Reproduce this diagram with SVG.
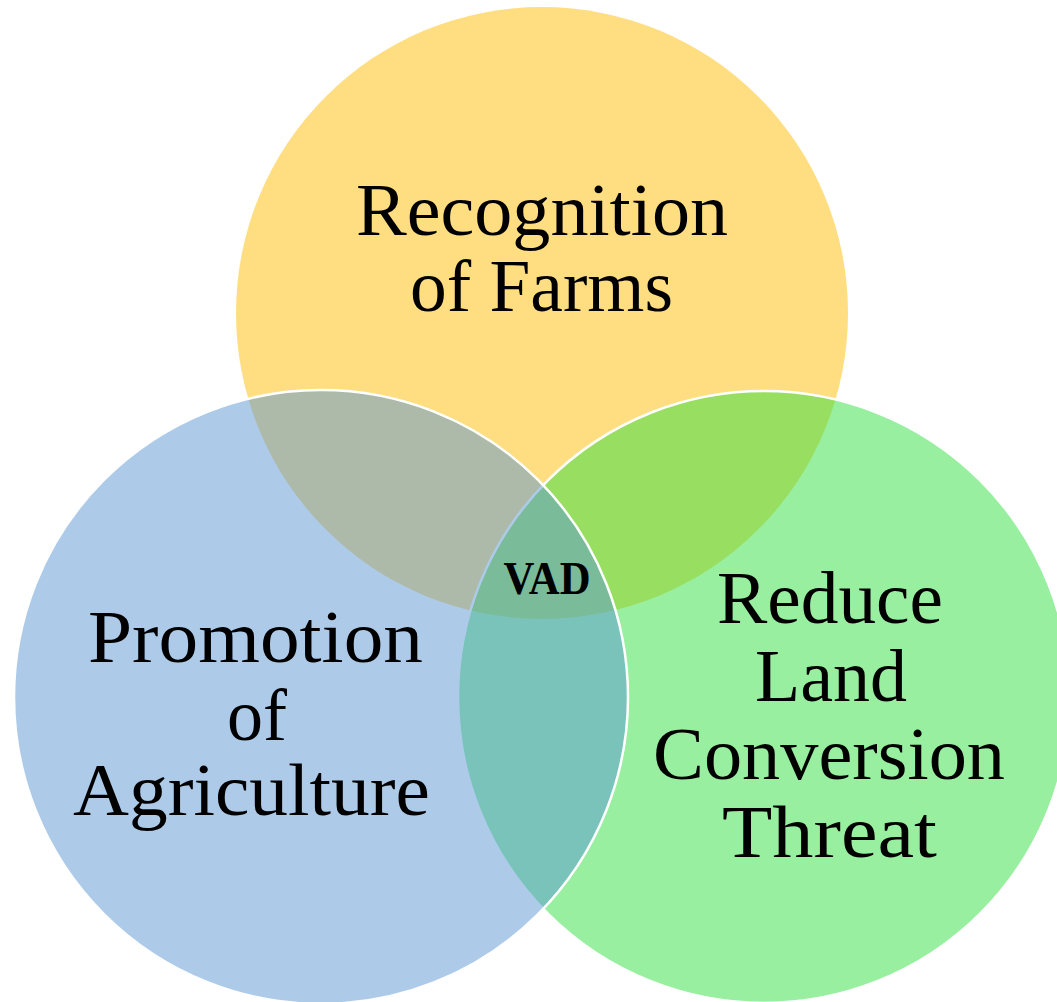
<svg xmlns="http://www.w3.org/2000/svg" width="1057" height="1002" viewBox="0 0 1057 1002">
  <style>
    .label { font-family: "Liberation Serif", "Times New Roman", serif; font-size: 75px; fill: #000; text-anchor: middle; }
    .core { font-family: "Liberation Serif", "Times New Roman", serif; font-size: 46px; font-weight: bold; fill: #000; text-anchor: middle; }
    .ring { fill-opacity: 0.5; }
  </style>
  <rect width="1057" height="1002" fill="#ffffff"/>

  <!-- Top set -->
  <g id="recognition-of-farms">
    <circle class="ring" cx="542" cy="313" r="306" fill="#FFBC03"/>
    <text class="label" x="542" y="235" textLength="372" lengthAdjust="spacingAndGlyphs">Recognition</text>
    <text class="label" x="541.5" y="311" textLength="263" lengthAdjust="spacingAndGlyphs">of Farms</text>
  </g>

  <!-- Right set -->
  <g id="reduce-land-conversion-threat">
    <circle class="ring" cx="764" cy="697" r="306" fill="#31DF41" stroke="#ffffff" stroke-width="2.5" stroke-opacity="1"/>
    <text class="label" x="830" y="623" textLength="226" lengthAdjust="spacingAndGlyphs">Reduce</text>
    <text class="label" x="831" y="701" textLength="152" lengthAdjust="spacingAndGlyphs">Land</text>
    <text class="label" x="829" y="779" textLength="352" lengthAdjust="spacingAndGlyphs">Conversion</text>
    <text class="label" x="829.5" y="857" textLength="215" lengthAdjust="spacingAndGlyphs">Threat</text>
  </g>

  <!-- Left set -->
  <g id="promotion-of-agriculture">
    <circle class="ring" cx="321" cy="697" r="307" fill="#5B98D3" stroke="#ffffff" stroke-width="2.5" stroke-opacity="1"/>
    <text class="label" x="255.5" y="662" textLength="335" lengthAdjust="spacingAndGlyphs">Promotion</text>
    <text class="label" x="257" y="740" textLength="60" lengthAdjust="spacingAndGlyphs">of</text>
    <text class="label" x="251.5" y="815" textLength="357" lengthAdjust="spacingAndGlyphs">Agriculture</text>
  </g>

  <!-- Shared centre -->
  <g id="vad">
    <text class="core" x="547" y="594" textLength="87" lengthAdjust="spacingAndGlyphs">VAD</text>
  </g>
</svg>
